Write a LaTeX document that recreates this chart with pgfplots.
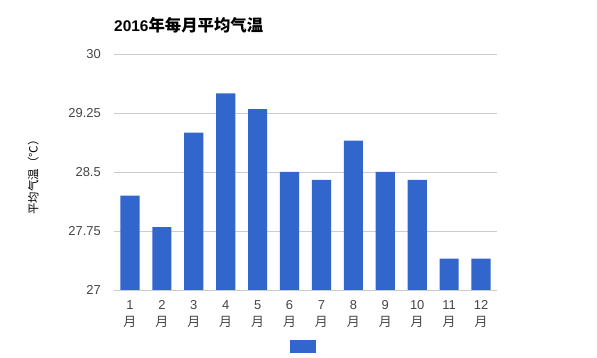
\documentclass[border=0pt]{standalone}
\usepackage{pgfplots}
\pgfplotsset{compat=1.18}
\usepackage{fontspec}
\setmainfont{Liberation Sans}
\newfontfamily\cjk{Noto Sans CJK SC}
\newfontfamily\cjkt[Scale=1.06]{Noto Sans CJK SC}
\definecolor{barblue}{HTML}{3366CC}
\definecolor{gridc}{HTML}{CCCCCC}
\definecolor{labc}{HTML}{444444}
\begin{document}
\begin{tikzpicture}
\path[use as bounding box] (0,0) rectangle (597bp,358bp);
\begin{axis}[
  at={(114bp,68bp)}, anchor=south west,
  scale only axis, width=383bp, height=236bp,
  ymin=27, ymax=30, xmin=0.5, xmax=12.5,
  ytick={27,27.75,28.5,29.25,30},
  yticklabels={27,27.75,28.5,29.25,30},
  xtick={1,...,12},
  xticklabels={{1\\\cjk 月},{2\\\cjk 月},{3\\\cjk 月},{4\\\cjk 月},{5\\\cjk 月},{6\\\cjk 月},{7\\\cjk 月},{8\\\cjk 月},{9\\\cjk 月},{10\\\cjk 月},{11\\\cjk 月},{12\\\cjk 月}},
  major tick length=0pt,
  axis line style={draw=none},
  ymajorgrids, grid style={gridc, line width=0.8bp},
  yticklabel style={inner sep=0pt, anchor=east, xshift=-13bp, font=\fontsize{13}{15}\selectfont, text=labc},
  xticklabel style={inner sep=0pt, anchor=north, yshift=-10.5bp, align=center, font=\fontsize{13}{17}\selectfont, text=labc},
  title={\bfseries 2016{\cjkt 年每月平均气温}},
  title style={at={(rel axis cs:0,1.097)}, anchor=west, inner sep=0pt, font=\fontsize{15.5}{18}\selectfont, text=black},
  ylabel={\cjk 平均气温（℃）},
  ylabel style={at={(rel axis cs:-0.211,0.49)}, anchor=center, inner sep=0pt, font=\fontsize{11.5}{13}\selectfont, text=black},
  legend style={draw=none, fill=none, at={(rel axis cs:0.4935,-0.239)}, anchor=center, inner sep=0pt, outer sep=0pt, column sep=0pt, nodes={inner sep=0pt}},
  legend image code/.code={\fill[barblue] (0bp,-6.5bp) rectangle (26bp,6.5bp);},
]
\addplot[ybar, bar width=0.6, fill=barblue, draw=none, bar shift=0pt] coordinates {
(1,28.2) (2,27.8) (3,29.0) (4,29.5) (5,29.3) (6,28.5) (7,28.4) (8,28.9) (9,28.5) (10,28.4) (11,27.4) (12,27.4)
};
\addlegendentry{}
\end{axis}
\end{tikzpicture}
\end{document}
